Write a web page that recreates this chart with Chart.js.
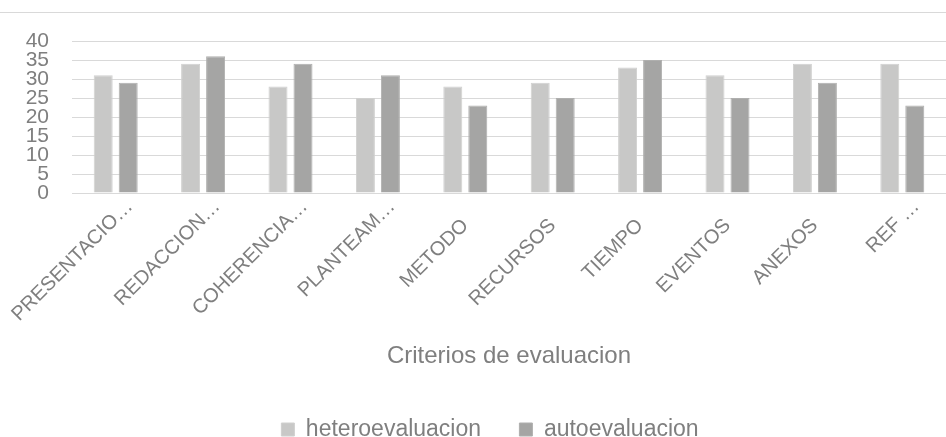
<!DOCTYPE html>
<html>
<head>
<meta charset="utf-8">
<script src="https://cdn.jsdelivr.net/npm/chart.js@4/dist/chart.umd.min.js"></script>
<style>
    html, body { margin: 0; padding: 0; background: #ffffff; }
    #chart { display: block; }
</style>
</head>
<body>
<canvas id="chart" width="946" height="437"></canvas>
<script>
var criterios = ['PRESENTACIO\u2026', 'REDACCION\u2026', 'COHERENCIA\u2026', 'PLANTEAM\u2026', 'METODO',
    'RECURSOS', 'TIEMPO', 'EVENTOS', 'ANEXOS', 'REF \u2026'];
var heteroevaluacion = [31, 34, 28, 25, 28, 29, 33, 31, 34, 34];
var autoevaluacion = [29, 36, 34, 31, 23, 25, 35, 25, 29, 23];
var yTicks = [0, 5, 10, 15, 20, 25, 30, 35, 40];

var gridColor = '#d9d9d9';
var textColor = '#7f7f7f';
var fontFamily = 'Liberation Sans';

// thin rule across the top of the chart
var topRule = {
    id: 'topRule',
    beforeDraw: function (chart) {
        var ctx = chart.ctx;
        ctx.save();
        ctx.strokeStyle = gridColor;
        ctx.lineWidth = 1;
        ctx.beginPath();
        ctx.moveTo(0, 12.5);
        ctx.lineTo(chart.width, 12.5);
        ctx.stroke();
        ctx.restore();
    }
};

// excel pushes the cut-off labels a bit further up the diagonal
var shiftCutLabels = {
    id: 'shiftCutLabels',
    beforeDraw: function (chart) {
        var scale = chart.scales.x;
        var items = scale.getLabelItems(chart.chartArea);
        items.forEach(function (item) {
            if (item._shifted) return;
            var text = String(item.label);
            if (text.charAt(text.length - 1) === '\u2026') {
                item.options.translation[0] += 14;
                item.options.translation[1] -= 19;
            }
            item._shifted = true;
        });
    }
};

// legend sits a little right of the canvas centre
var nudgeLegend = {
    id: 'nudgeLegend',
    afterLayout: function (chart) {
        chart.legend.left += 34;
    }
};

var context = document.getElementById('chart').getContext('2d');
var chart = new Chart(context, {
    type: 'bar',
    data: {
        labels: criterios,
        datasets: [
            { label: 'heteroevaluacion', data: heteroevaluacion, backgroundColor: '#c8c8c7', borderColor: '#d0d0cf', borderWidth: 1 },
            { label: 'autoevaluacion', data: autoevaluacion, backgroundColor: '#a5a5a4', borderColor: '#afafae', borderWidth: 1 }
        ]
    },
    options: {
        responsive: false,
        animation: false,
        categoryPercentage: 0.572,
        barPercentage: 0.76,
        layout: { padding: { top: 41, right: 0, bottom: -14, left: 0 } },
        plugins: {
            legend: {
                position: 'bottom',
                labels: {
                    boxWidth: 13,
                    boxHeight: 13,
                    padding: 0,
                    color: textColor,
                    font: { family: fontFamily, size: 23, lineHeight: 1 },
                    generateLabels: function (chart) {
                        var items = Chart.defaults.plugins.legend.labels.generateLabels(chart);
                        items[0].text = items[0].text + '      ';
                        return items;
                    }
                }
            },
            tooltip: { enabled: false }
        },
        scales: {
            x: {
                grid: { display: false, drawTicks: false },
                border: { display: true, color: gridColor, width: 1 },
                ticks: {
                    autoSkip: false,
                    maxRotation: 45,
                    minRotation: 45,
                    padding: 21,
                    color: textColor,
                    font: { family: fontFamily, size: 20 }
                },
                title: {
                    display: true,
                    text: 'Criterios de evaluacion',
                    color: textColor,
                    font: { family: fontFamily, size: 24 },
                    padding: { top: 0, bottom: 47 }
                },
                afterFit: function (scale) {
                    scale.height = 225;
                    scale.paddingLeft = 0;
                    scale.paddingRight = 0;
                }
            },
            y: {
                min: 0,
                max: 40,
                afterBuildTicks: function (scale) {
                    scale.ticks = yTicks.map(function (v) { return { value: v }; });
                },
                grid: { color: gridColor, lineWidth: 1, drawTicks: false },
                border: { display: false },
                ticks: {
                    autoSkip: false,
                    padding: 23,
                    color: textColor,
                    font: { family: fontFamily, size: 21 }
                },
                afterFit: function (scale) { scale.width = 72; }
            }
        }
    },
    plugins: [topRule, shiftCutLabels, nudgeLegend]
});
</script>
</body>
</html>
